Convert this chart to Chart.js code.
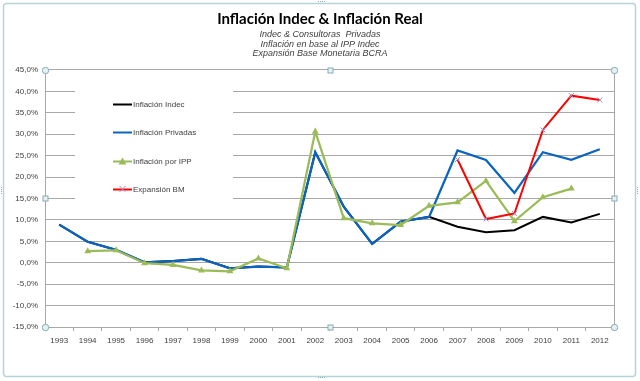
<!DOCTYPE html>
<html>
<head>
<meta charset="utf-8">
<script src="https://cdn.jsdelivr.net/npm/chart.js@4/dist/chart.umd.min.js"></script>
<style>
  html, body { margin: 0; padding: 0; background: #ffffff; }
  #wrap { position: relative; width: 640px; height: 381px; }
</style>
</head>
<body>
<div id="wrap"><canvas id="c" width="640" height="381"></canvas></div>
<script>
const years = ['1993','1994','1995','1996','1997','1998','1999','2000','2001','2002','2003','2004','2005','2006','2007','2008','2009','2010','2011','2012'];
const inflacionIndec    = [8.9, 4.9, 3.0, 0.1, 0.4, 0.9, -1.3, -0.9, -1.1, 25.8, 13.1, 4.4, 9.6, 10.7, 8.4, 7.1, 7.6, 10.7, 9.4, 11.4];
const inflacionPrivadas = [8.9, 4.9, 3.0, 0.1, 0.4, 0.9, -1.3, -0.9, -1.1, 25.8, 13.1, 4.4, 9.6, 10.7, 26.2, 24.0, 16.3, 25.8, 24.0, 26.5];
const inflacionIPP      = [null, 2.7, 2.9, -0.1, -0.5, -1.8, -2.0, 1.0, -1.3, 30.6, 10.4, 9.2, 8.8, 13.3, 14.1, 19.1, 9.7, 15.3, 17.3, null];
const expansionBM       = [null, null, null, null, null, null, null, null, null, null, null, null, null, null, 24.1, 10.2, 11.5, 31.0, 39.0, 38.0];
const seriesNames = ['Inflación Indec', 'Inflación Privadas', 'Inflación por IPP', 'Expansión BM'];
const titleText = 'Inflación Indec & Inflación Real';
const subtitleLines = ['Indec & Consultoras  Privadas', 'Inflación en base al IPP Indec', 'Expansión Base Monetaria BCRA'];
const yMin = -15, yMax = 45, yStep = 5;

const colors = {
  indec: '#000000', privadas: '#0a64c0', ipp: '#9bbb59', bm: '#ff0000', bmMarker: '#a58cc8'
};

const decorPlugin = {
  id: 'decor',
  beforeDatasetsDraw(chart) {
    const ctx = chart.ctx;
    const a = chart.chartArea;
    ctx.save();
    // right border of plot area
    ctx.strokeStyle = '#a8a8a8';
    ctx.lineWidth = 1;
    ctx.beginPath();
    ctx.moveTo(Math.round(a.right) + 0.5, a.top);
    ctx.lineTo(Math.round(a.right) + 0.5, a.bottom);
    ctx.stroke();
    // legend box (white, covering gridlines)
    ctx.fillStyle = '#ffffff';
    ctx.fillRect(75, 82, 158, 128);
    ctx.restore();
  },
  afterDatasetsDraw(chart) {
    const ctx = chart.ctx;
    const a = chart.chartArea;
    ctx.save();
    // legend entries
    const ds = chart.data.datasets;
    const ys = [104, 132, 161, 189];
    ctx.font = '8px "Liberation Sans", Arial, sans-serif';
    ctx.textBaseline = 'middle';
    ctx.textAlign = 'left';
    seriesNames.forEach((name, i) => {
      const y = ys[i];
      ctx.strokeStyle = ds[i].borderColor;
      ctx.lineWidth = 2;
      ctx.beginPath();
      ctx.moveTo(113, y + 0.5);
      ctx.lineTo(132, y + 0.5);
      ctx.stroke();
      if (i === 2) {
        ctx.fillStyle = colors.ipp;
        ctx.beginPath();
        ctx.moveTo(122.5, y - 3.5);
        ctx.lineTo(126.5, y + 3.5);
        ctx.lineTo(118.5, y + 3.5);
        ctx.closePath();
        ctx.fill();
      }
      if (i === 3) {
        ctx.strokeStyle = colors.bmMarker;
        ctx.lineWidth = 1;
        ctx.beginPath();
        ctx.moveTo(119.5, y - 3); ctx.lineTo(125.5, y + 3);
        ctx.moveTo(125.5, y - 3); ctx.lineTo(119.5, y + 3);
        ctx.stroke();
      }
      ctx.fillStyle = '#404040';
      ctx.fillText(name, 133, y + 1);
    });
    // outer chart frame
    ctx.strokeStyle = '#b4d4da';
    ctx.lineWidth = 1.5;
    ctx.beginPath();
    ctx.roundRect(3.5, 3.5, 632, 373, 3);
    ctx.stroke();
    // selection handles of plot area
    const L = Math.round(a.left) + 0.5, R = Math.round(a.right) + 0.5, T = Math.round(a.top) + 0.5, B = Math.round(a.bottom) + 0.5;
    const mx = Math.round((a.left + a.right) / 2) + 0.5, my = Math.round((a.top + a.bottom) / 2) + 0.5;
    ctx.lineWidth = 1;
    ctx.strokeStyle = '#8aaab4';
    ctx.fillStyle = '#e4f2f6';
    [[L, T], [R, T], [L, B], [R, B]].forEach(([x, y]) => {
      ctx.beginPath(); ctx.arc(x, y, 3.2, 0, Math.PI * 2); ctx.fill(); ctx.stroke();
    });
    [[mx, T], [mx, B], [L, my], [R, my]].forEach(([x, y]) => {
      ctx.fillRect(x - 2.5, y - 2.5, 5, 5); ctx.strokeRect(x - 2.5, y - 2.5, 5, 5);
    });
    // frame handles
    ctx.fillStyle = '#8aaab4';
    [[318, 1], [318, 377], [1, 187], [637, 187]].forEach(([x, y], i) => {
      for (let k = 0; k < 4; k++) {
        if (i < 2) ctx.fillRect(x + k * 2, y, 1, 1);
        else ctx.fillRect(x, y + k * 2, 1, 1);
      }
    });
    ctx.restore();
  }
};

const cfg = {
  type: 'line',
  data: {
    labels: years,
    datasets: [
      { label: seriesNames[0], data: inflacionIndec, borderColor: colors.indec, backgroundColor: colors.indec,
        borderWidth: 2, pointRadius: 0, order: 4, tension: 0 },
      { label: seriesNames[1], data: inflacionPrivadas, borderColor: colors.privadas, backgroundColor: colors.privadas,
        borderWidth: 2.25, pointRadius: 0, order: 3, tension: 0 },
      { label: seriesNames[2], data: inflacionIPP, borderColor: colors.ipp, backgroundColor: colors.ipp,
        borderWidth: 2.25, pointRadius: 4, pointStyle: 'triangle', pointBorderWidth: 0,
        pointBackgroundColor: colors.ipp, pointBorderColor: colors.ipp, order: 2, tension: 0 },
      { label: seriesNames[3], data: expansionBM, borderColor: colors.bm, backgroundColor: colors.bm,
        borderWidth: 2, pointRadius: 3.5, pointStyle: 'crossRot', pointBorderWidth: 1,
        pointBorderColor: colors.bmMarker, order: 1, tension: 0 }
    ]
  },
  options: {
    responsive: false,
    animation: false,
    devicePixelRatio: 1,
    layout: { padding: { left: 0, right: 0, top: 0, bottom: 24 } },
    plugins: {
      legend: { display: false },
      tooltip: { enabled: false },
      title: {
        display: true, text: titleText, color: '#000000',
        font: { family: 'Lato, "Liberation Sans", sans-serif', size: 15, weight: 'bold', lineHeight: 1.2 },
        padding: { top: 10, bottom: 2 }
      },
      subtitle: {
        display: true, text: subtitleLines, color: '#404040',
        font: { family: '"Liberation Sans", Arial, sans-serif', size: 9, style: 'italic', lineHeight: 1.05 },
        padding: { top: 0, bottom: 11.6 }
      }
    },
    scales: {
      x: {
        type: 'category',
        offset: true,
        grid: { display: true, drawOnChartArea: false, drawTicks: true, tickLength: 4, offset: true, color: '#a8a8a8' },
        border: { display: true, color: '#a8a8a8' },
        ticks: { color: '#404040', font: { family: '"Liberation Sans", Arial, sans-serif', size: 8 }, padding: 5, maxRotation: 0, autoSkip: false },
        afterFit(scale) { scale.height = 30; }
      },
      y: {
        min: yMin, max: yMax,
        grid: { color: '#a8a8a8', drawTicks: false, lineWidth: 1 },
        border: { display: true, color: '#a8a8a8' },
        ticks: {
          stepSize: yStep, color: '#404040', padding: 7,
          font: { family: '"Liberation Sans", Arial, sans-serif', size: 8 },
          callback: (v) => v.toFixed(1).replace('.', ',') + '%'
        },
        afterFit(scale) { scale.width = 45; }
      },
      yRight: {
        position: 'right',
        display: true,
        min: yMin, max: yMax,
        grid: { display: false, drawOnChartArea: false, drawTicks: false },
        border: { display: false },
        ticks: { display: false },
        afterFit(scale) { scale.width = 26; }
      }
    }
  },
  plugins: [decorPlugin]
};

new Chart(document.getElementById('c'), cfg);
</script>
</body>
</html>
